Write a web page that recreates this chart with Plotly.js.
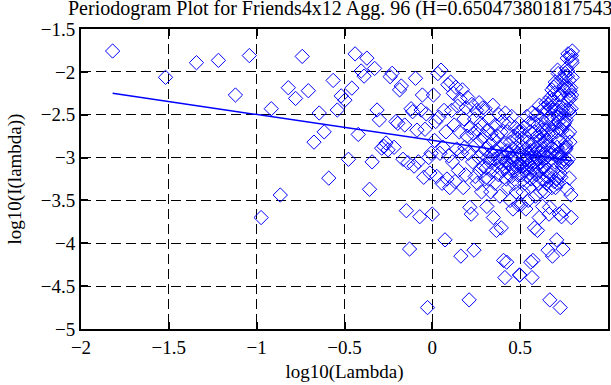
<!DOCTYPE html>
<html>
<head>
<meta charset="utf-8">
<script src="https://cdn.plot.ly/plotly-3.0.1.min.js"></script>
<style>
html,body{margin:0;padding:0;background:#fff;}
#chart{width:611px;height:385px;}
</style>
</head>
<body>
<div id="chart"></div>
<script>
// Fourier frequencies lambda_k (k = 1..207), lower half of (0, 2*pi)
const lambdaLow = [
0.01514,0.03028,0.04542,0.06056,0.0757,0.09084,0.10598,0.12112,0.13626,0.1514,
0.16654,0.18168,0.19682,0.21196,0.2271,0.24224,0.25738,0.27252,0.28766,0.3028,
0.31794,0.33308,0.34822,0.36336,0.3785,0.39364,0.40878,0.42392,0.43906,0.4542,
0.46934,0.48448,0.49962,0.51476,0.5299,0.54504,0.56018,0.57532,0.59046,0.6056,
0.62074,0.63588,0.65102,0.66616,0.6813,0.69644,0.71158,0.72672,0.74186,0.757,
0.77214,0.78728,0.80242,0.81756,0.8327,0.84784,0.86298,0.87812,0.89326,0.9084,
0.92354,0.93868,0.95382,0.96896,0.9841,0.99924,1.01438,1.02952,1.04466,1.0598,
1.07494,1.09008,1.10522,1.12036,1.1355,1.15064,1.16578,1.18092,1.19606,1.2112,
1.22634,1.24148,1.25662,1.27176,1.2869,1.30204,1.31718,1.33232,1.34746,1.3626,
1.37774,1.39288,1.40802,1.42316,1.4383,1.45344,1.46858,1.48372,1.49886,1.514,
1.52914,1.54428,1.55942,1.57456,1.5897,1.60484,1.61998,1.63512,1.65026,1.6654,
1.68054,1.69568,1.71082,1.72596,1.7411,1.75624,1.77138,1.78652,1.80166,1.8168,
1.83194,1.84708,1.86222,1.87736,1.8925,1.90764,1.92278,1.93792,1.95306,1.9682,
1.98334,1.99848,2.01362,2.02876,2.0439,2.05904,2.07418,2.08932,2.10446,2.1196,
2.13474,2.14988,2.16502,2.18016,2.1953,2.21044,2.22558,2.24072,2.25586,2.271,
2.28614,2.30128,2.31642,2.33156,2.3467,2.36184,2.37698,2.39212,2.40726,2.4224,
2.43754,2.45268,2.46782,2.48296,2.4981,2.51324,2.52838,2.54352,2.55866,2.5738,
2.58894,2.60408,2.61922,2.63436,2.6495,2.66464,2.67978,2.69492,2.71006,2.7252,
2.74034,2.75548,2.77062,2.78576,2.8009,2.81604,2.83118,2.84632,2.86146,2.8766,
2.89174,2.90688,2.92202,2.93716,2.9523,2.96744,2.98258,2.99772,3.01286,3.028,
3.04314,3.05828,3.07342,3.08856,3.1037,3.11884,3.13398];

// mirrored frequencies 2*pi - lambda_k (same order as lambdaLow)
const lambdaHigh = [
6.26796,6.25282,6.23768,6.22254,6.2074,6.19226,6.17712,6.16198,6.14684,6.1317,
6.11656,6.10142,6.08628,6.07114,6.056,6.04086,6.02572,6.01058,5.99544,5.9803,
5.96516,5.95002,5.93488,5.91974,5.9046,5.88946,5.87432,5.85918,5.84404,5.8289,
5.81376,5.79862,5.78348,5.76834,5.7532,5.73806,5.72292,5.70778,5.69264,5.6775,
5.66236,5.64722,5.63208,5.61694,5.6018,5.58666,5.57152,5.55638,5.54124,5.5261,
5.51096,5.49582,5.48068,5.46554,5.4504,5.43526,5.42012,5.40498,5.38984,5.3747,
5.35956,5.34442,5.32928,5.31414,5.299,5.28386,5.26872,5.25358,5.23844,5.2233,
5.20816,5.19302,5.17788,5.16274,5.1476,5.13246,5.11732,5.10218,5.08704,5.0719,
5.05676,5.04162,5.02648,5.01134,4.9962,4.98106,4.96592,4.95078,4.93564,4.9205,
4.90536,4.89022,4.87508,4.85994,4.8448,4.82966,4.81452,4.79938,4.78424,4.7691,
4.75396,4.73882,4.72368,4.70854,4.6934,4.67826,4.66312,4.64798,4.63284,4.6177,
4.60256,4.58742,4.57228,4.55714,4.542,4.52686,4.51172,4.49658,4.48144,4.4663,
4.45116,4.43602,4.42088,4.40574,4.3906,4.37546,4.36032,4.34518,4.33004,4.3149,
4.29976,4.28462,4.26948,4.25434,4.2392,4.22406,4.20892,4.19378,4.17864,4.1635,
4.14836,4.13322,4.11808,4.10294,4.0878,4.07266,4.05752,4.04238,4.02724,4.0121,
3.99696,3.98182,3.96668,3.95154,3.9364,3.92126,3.90612,3.89098,3.87584,3.8607,
3.84556,3.83042,3.81528,3.80014,3.785,3.76986,3.75472,3.73958,3.72444,3.7093,
3.69416,3.67902,3.66388,3.64874,3.6336,3.61846,3.60332,3.58818,3.57304,3.5579,
3.54276,3.52762,3.51248,3.49734,3.4822,3.46706,3.45192,3.43678,3.42164,3.4065,
3.39136,3.37622,3.36108,3.34594,3.3308,3.31566,3.30052,3.28538,3.27024,3.2551,
3.23996,3.22482,3.20968,3.19454,3.1794,3.16426,3.14912];

// log10 of periodogram ordinate at each frequency
const logI = [
-1.757,-2.064,-1.893,-1.866,-2.27,-1.81,-3.70,-2.43,-3.437,-2.185,
-2.31,-1.82,-2.22,-2.82,-2.48,-2.70,-3.24,-2.10,-2.445,-2.28,
-2.33,-3.02,-2.19,-1.79,-2.73,-1.99,-2.05,-1.84,-3.37,-3.05,
-1.96,-2.445,-2.56,-2.89,-2.87,-2.83,-2.91,-2.056,-2.017,-2.88,
-2.58,-2.60,-2.21,-2.165,-3.02,-2.62,-3.62,-3.06,-4.067,-2.43,
-2.465,-3.10,-2.075,-2.68,-3.05,-3.69,-2.445,-2.27,-3.23,-2.67,
-2.49,-4.75,-3.00,-3.18,-2.95,-3.66,-2.27,-2.80,-2.58,-3.22,
-2.02,-2.53,-2.95,-1.98,-3.30,-2.88,-2.45,-3.96,-2.70,-3.25,
-2.15,-2.98,-3.35,-2.12,-2.45,-3.05,-2.25,-2.62,-3.28,-2.18,
-2.90,-2.40,-3.15,-2.70,-2.32,-4.15,-2.95,-2.21,-3.35,-2.55,
-2.88,-3.20,-2.42,-2.75,-2.30,-2.95,-4.66,-3.58,-2.65,-3.66,
-2.38,-3.05,-2.72,-4.08,-2.55,-3.22,-2.85,-2.45,-3.30,-2.68,
-3.00,-2.36,-3.15,-2.80,-2.60,-3.40,-2.95,-2.42,-3.10,-2.75,
-3.25,-2.43,-2.90,-3.12,-3.57,-2.68,-3.00,-3.25,-2.55,-2.85,
-3.05,-3.40,-2.72,-2.95,-3.15,-2.39,-3.70,-2.80,-3.02,-3.30,
-2.62,-2.92,-3.85,-3.10,-2.75,-3.00,-3.20,-2.50,-2.88,-3.45,
-3.05,-2.70,-3.82,-2.96,-3.15,-2.58,-3.00,-4.20,-2.85,-3.12,
-4.40,-2.48,-3.05,-3.25,-4.22,-2.92,-2.70,-3.18,-3.35,-2.95,
-2.60,-3.08,-3.50,-2.82,-3.00,-3.22,-2.52,-3.12,-2.90,-3.60,
-3.02,-2.75,-3.30,-2.98,-3.15,-2.65,-3.05,-3.40,-2.88,-3.10,
-2.78,-3.20,-2.95,-3.55,-2.70,-3.08,-4.37];

// least-squares fit line end points
const fitLambda = [0.01514, 6.26796];
const fitLogI = [-2.25, -3.04];

// axis ticks
const xTickVals = [0.01, 0.0316228, 0.1, 0.316228, 1, 3.16228, 10];
const xTickText = ['\u22122', '\u22121.5', '\u22121', '\u22120.5', '0', '0.5', '1'];

const titleText = 'Periodogram Plot for Friends4x12 Agg. 96 (H=0.650473801817543)';

const blue = '#0000ff';
const serif = 'Liberation Serif, Times New Roman, serif';
const markerStyle = {symbol: 'diamond-open', size: 11, color: blue, line: {color: blue, width: 1}};

const traces = [
  {x: lambdaLow, y: logI, type: 'scatter', mode: 'markers', marker: markerStyle, hoverinfo: 'skip'},
  {x: lambdaHigh, y: logI, type: 'scatter', mode: 'markers', marker: markerStyle, hoverinfo: 'skip'},
  {x: fitLambda, y: fitLogI, type: 'scatter', mode: 'lines', line: {color: blue, width: 1.5}, hoverinfo: 'skip'}
];

const axisCommon = {
  ticks: 'inside', ticklen: 7, tickwidth: 2, tickcolor: '#000',
  showline: true, linewidth: 2, linecolor: '#000', mirror: 'ticks',
  showgrid: true, gridcolor: '#000', gridwidth: 1, griddash: '10px,5px',
  zeroline: false, fixedrange: true,
  tickfont: {family: serif, size: 19, color: '#000'}
};

const layout = {
  width: 611, height: 385,
  margin: {l: 81, r: 3, t: 29, b: 56, pad: 0},
  paper_bgcolor: '#fff', plot_bgcolor: '#fff',
  showlegend: false,
  font: {family: serif, size: 19, color: '#000'},
  title: {
    text: titleText,
    font: {family: serif, size: 20, color: '#000'},
    xref: 'container', x: 68/611, xanchor: 'left',
    yref: 'container', y: 0.997, yanchor: 'top',
    pad: {t: 0, b: 0, l: 0, r: 0}
  },
  xaxis: Object.assign({}, axisCommon, {
    type: 'log', range: [-2, 1],
    tickmode: 'array', tickvals: xTickVals, ticktext: xTickText,
    title: {text: 'log10(Lambda)', font: {family: serif, size: 19, color: '#000'}, standoff: 8}
  }),
  yaxis: Object.assign({}, axisCommon, {
    range: [-5, -1.5], tick0: -5, dtick: 0.5,
    title: {text: 'log10(I(lambda))', font: {family: serif, size: 19, color: '#000'}, standoff: 14}
  })
};

Plotly.newPlot('chart', traces, layout, {displayModeBar: false, staticPlot: true});
</script>
</body>
</html>
